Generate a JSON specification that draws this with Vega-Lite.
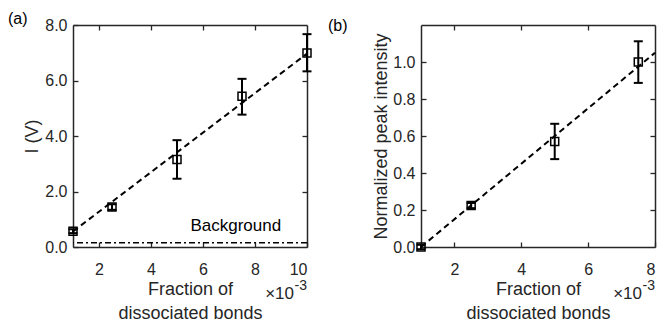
{
  "$schema": "https://vega.github.io/schema/vega-lite/v6.json",
  "padding": {"left": 8, "top": 11, "right": 0, "bottom": 2},
  "bounds": "flush",
  "spacing": 114,
  "background": "white",
  "config": {
    "view": {"stroke": null},
    "font": "Liberation Sans",
    "axis": {
      "grid": false,
      "domainColor": "#262626",
      "domainWidth": 1.5,
      "tickColor": "#262626",
      "tickWidth": 1.3,
      "tickSize": -5,
      "labelFont": "Liberation Sans",
      "labelFontSize": 16,
      "labelColor": "#262626",
      "titleFont": "Liberation Sans",
      "titleFontSize": 18,
      "titleFontWeight": "normal",
      "titleColor": "#262626",
      "titleLineHeight": 24
    },
    "title": {"font": "Liberation Sans", "fontSize": 16, "fontWeight": "normal", "color": "#000000"}
  },
  "datasets": {
    "a": [
      {"x": 1, "y": 0.57, "lo": 0.5, "hi": 0.64},
      {"x": 2.5, "y": 1.44, "lo": 1.34, "hi": 1.54},
      {"x": 5, "y": 3.15, "lo": 2.46, "hi": 3.85},
      {"x": 7.5, "y": 5.43, "lo": 4.77, "hi": 6.06},
      {"x": 10, "y": 6.99, "lo": 6.33, "hi": 7.67}
    ],
    "afit": [{"x": 1, "y": 0.56}, {"x": 10, "y": 6.97}],
    "abg": [{"bg": 0.15}],
    "b": [
      {"x": 1, "y": 0.0, "lo": -0.012, "hi": 0.012},
      {"x": 2.5, "y": 0.224, "lo": 0.21, "hi": 0.238},
      {"x": 5, "y": 0.57, "lo": 0.475, "hi": 0.666},
      {"x": 7.5, "y": 1.0, "lo": 0.887, "hi": 1.112}
    ],
    "bfit": [{"x": 1, "y": 0.0}, {"x": 8, "y": 1.05}]
  },
  "hconcat": [
    {
      "width": 234,
      "height": 222,
      "title": {"text": "(a)", "anchor": "start", "frame": "group", "dx": -65, "offset": -10},
      "resolve": {"axis": {"x": "independent", "y": "independent"}},
      "layer": [
        {
          "data": {"name": "abg"},
          "mark": {"type": "rule", "color": "#000000", "strokeWidth": 1.5, "strokeDash": [6, 3, 2, 3]},
          "encoding": {
            "y": {"field": "bg", "type": "quantitative", "scale": {"domain": [0, 8], "nice": false, "zero": false}, "axis": null}
          }
        },
        {
          "data": {"name": "afit"},
          "mark": {"type": "line", "color": "#000000", "strokeWidth": 2, "strokeDash": [6, 4]},
          "encoding": {
            "x": {"field": "x", "type": "quantitative", "scale": {"domain": [1, 10], "nice": false, "zero": false},
                  "axis": {"orient": "top", "labels": false, "title": null, "values": [2, 4, 6, 8]}},
            "y": {"field": "y", "type": "quantitative", "scale": {"domain": [0, 8], "nice": false, "zero": false},
                  "axis": {"orient": "right", "labels": false, "title": null, "values": [2, 4, 6]}}
          }
        },
        {
          "data": {"name": "a"},
          "mark": {"type": "rule", "color": "#000000", "strokeWidth": 2},
          "encoding": {
            "x": {"field": "x", "type": "quantitative", "axis": null},
            "y": {"field": "lo", "type": "quantitative", "axis": null},
            "y2": {"field": "hi"}
          }
        },
        {
          "data": {"name": "a"},
          "mark": {"type": "tick", "orient": "horizontal", "color": "#000000", "size": 9, "thickness": 2, "opacity": 1},
          "encoding": {
            "x": {"field": "x", "type": "quantitative", "axis": null},
            "y": {"field": "lo", "type": "quantitative", "axis": null}
          }
        },
        {
          "data": {"name": "a"},
          "mark": {"type": "tick", "orient": "horizontal", "color": "#000000", "size": 9, "thickness": 2, "opacity": 1},
          "encoding": {
            "x": {"field": "x", "type": "quantitative", "axis": null},
            "y": {"field": "hi", "type": "quantitative", "axis": null}
          }
        },
        {
          "data": {"name": "a"},
          "mark": {"type": "point", "shape": "square", "filled": false, "size": 64, "stroke": "#000000", "strokeWidth": 1.5, "opacity": 1},
          "encoding": {
            "x": {"field": "x", "type": "quantitative",
                  "axis": {"orient": "bottom", "values": [2, 4, 6, 8, 10], "labelPadding": 19, "titlePadding": 3,
                           "title": ["Fraction of", "dissociated bonds"]}},
            "y": {"field": "y", "type": "quantitative",
                  "axis": {"orient": "left", "values": [0, 2, 4, 6, 8], "format": ".1f", "labelPadding": 11, "titlePadding": 3, "title": "I (V)"}}
          }
        },
        {
          "data": {"values": [{"t": "Background", "x": 7.26, "y": 0.57}]},
          "mark": {"type": "text", "fontSize": 17, "align": "center", "baseline": "alphabetic", "color": "#000000"},
          "encoding": {
            "x": {"field": "x", "type": "quantitative", "axis": null},
            "y": {"field": "y", "type": "quantitative", "axis": null},
            "text": {"field": "t"}
          }
        },
        {
          "data": {"values": [{"t": "×10", "x": 10, "y": 0}]},
          "mark": {"type": "text", "fontSize": 17, "align": "right", "baseline": "alphabetic", "dx": -13, "dy": 52, "color": "#262626"},
          "encoding": {
            "x": {"field": "x", "type": "quantitative", "axis": null},
            "y": {"field": "y", "type": "quantitative", "axis": null},
            "text": {"field": "t"}
          }
        },
        {
          "data": {"values": [{"t": "-3", "x": 10, "y": 0}]},
          "mark": {"type": "text", "fontSize": 14, "align": "right", "baseline": "alphabetic", "dx": 0, "dy": 43, "color": "#262626"},
          "encoding": {
            "x": {"field": "x", "type": "quantitative", "axis": null},
            "y": {"field": "y", "type": "quantitative", "axis": null},
            "text": {"field": "t"}
          }
        }
      ]
    },
    {
      "width": 234,
      "height": 222,
      "title": {"text": "(b)", "anchor": "start", "frame": "group", "dx": -93, "offset": -10},
      "resolve": {"axis": {"x": "independent", "y": "independent"}},
      "layer": [
        {
          "data": {"name": "bfit"},
          "mark": {"type": "line", "color": "#000000", "strokeWidth": 2, "strokeDash": [6, 4]},
          "encoding": {
            "x": {"field": "x", "type": "quantitative", "scale": {"domain": [1, 8], "nice": false, "zero": false},
                  "axis": {"orient": "top", "labels": false, "title": null, "values": [2, 4, 6]}},
            "y": {"field": "y", "type": "quantitative", "scale": {"domain": [0, 1.2], "nice": false, "zero": false},
                  "axis": {"orient": "right", "labels": false, "title": null, "values": [0.2, 0.4, 0.6, 0.8, 1.0]}}
          }
        },
        {
          "data": {"name": "b"},
          "mark": {"type": "rule", "color": "#000000", "strokeWidth": 2},
          "encoding": {
            "x": {"field": "x", "type": "quantitative", "axis": null},
            "y": {"field": "lo", "type": "quantitative", "axis": null},
            "y2": {"field": "hi"}
          }
        },
        {
          "data": {"name": "b"},
          "mark": {"type": "tick", "orient": "horizontal", "color": "#000000", "size": 9, "thickness": 2, "opacity": 1},
          "encoding": {
            "x": {"field": "x", "type": "quantitative", "axis": null},
            "y": {"field": "lo", "type": "quantitative", "axis": null}
          }
        },
        {
          "data": {"name": "b"},
          "mark": {"type": "tick", "orient": "horizontal", "color": "#000000", "size": 9, "thickness": 2, "opacity": 1},
          "encoding": {
            "x": {"field": "x", "type": "quantitative", "axis": null},
            "y": {"field": "hi", "type": "quantitative", "axis": null}
          }
        },
        {
          "data": {"name": "b"},
          "mark": {"type": "point", "shape": "square", "filled": false, "size": 64, "stroke": "#000000", "strokeWidth": 1.5, "opacity": 1},
          "encoding": {
            "x": {"field": "x", "type": "quantitative",
                  "axis": {"orient": "bottom", "values": [2, 4, 6, 8], "labelPadding": 19, "titlePadding": 3,
                           "title": ["Fraction of", "dissociated bonds"]}},
            "y": {"field": "y", "type": "quantitative",
                  "axis": {"orient": "left", "values": [0, 0.2, 0.4, 0.6, 0.8, 1.0], "format": ".1f", "labelPadding": 11, "titlePadding": 2, "title": "Normalized peak intensity"}}
          }
        },
        {
          "data": {"values": [{"t": "×10", "x": 8, "y": 0}]},
          "mark": {"type": "text", "fontSize": 17, "align": "right", "baseline": "alphabetic", "dx": -13, "dy": 52, "color": "#262626"},
          "encoding": {
            "x": {"field": "x", "type": "quantitative", "axis": null},
            "y": {"field": "y", "type": "quantitative", "axis": null},
            "text": {"field": "t"}
          }
        },
        {
          "data": {"values": [{"t": "-3", "x": 8, "y": 0}]},
          "mark": {"type": "text", "fontSize": 14, "align": "right", "baseline": "alphabetic", "dx": 0, "dy": 43, "color": "#262626"},
          "encoding": {
            "x": {"field": "x", "type": "quantitative", "axis": null},
            "y": {"field": "y", "type": "quantitative", "axis": null},
            "text": {"field": "t"}
          }
        }
      ]
    }
  ]
}
